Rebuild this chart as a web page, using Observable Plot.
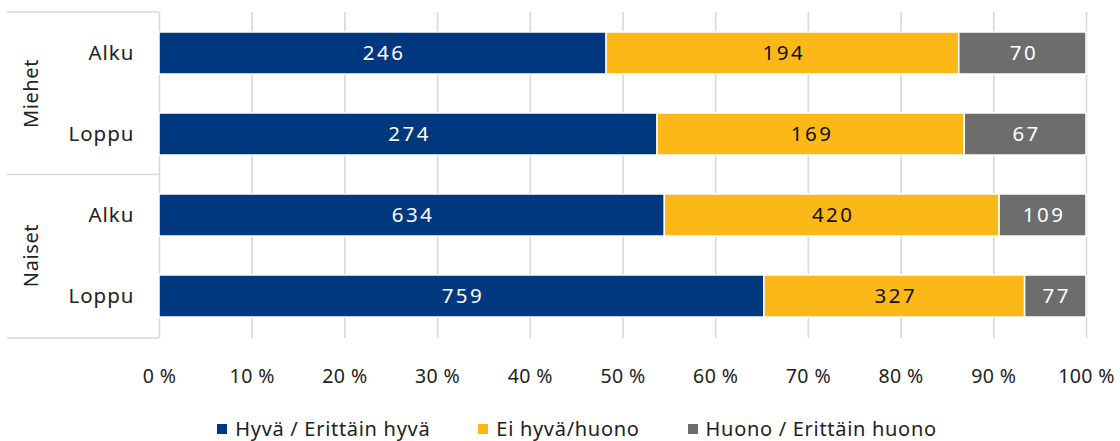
<!DOCTYPE html>
<html>
<head>
<meta charset="utf-8">
<script src="https://cdn.jsdelivr.net/npm/d3@7"></script>
<script src="https://cdn.jsdelivr.net/npm/@observablehq/plot@0.6"></script>
<style>
  html, body { margin: 0; padding: 0; background: #fff; }
  body { width: 1120px; height: 441px; overflow: hidden; font-family: "Noto Sans", sans-serif; }
  #chart svg { display: block; }
  .ch g[aria-label="text"] text { letter-spacing: 2.5px; }
  .ch g[aria-label="y-axis tick label"] text { letter-spacing: 1px; }
  .ch g[aria-label="x-axis tick label"] text { letter-spacing: 0.4px; }
  #legend { display: flex; justify-content: center; gap: 48px; font-size: 20px; letter-spacing: 0.7px; color: #222; margin-top: 7px; padding-left: 34px; }
  #legend .item { display: flex; align-items: center; }
  #legend .sw { width: 10px; height: 10px; margin-right: 8px; }
</style>
</head>
<body>
<div id="chart"></div>
<div id="legend"></div>
<script>
const groups = ["Miehet", "Miehet", "Naiset", "Naiset"];
const periods = ["Alku", "Loppu", "Alku", "Loppu"];
const categories = ["Hyvä / Erittäin hyvä", "Ei hyvä/huono", "Huono / Erittäin huono"];
const good = [246, 274, 634, 759];
const neutral = [194, 169, 420, 327];
const poor = [70, 67, 109, 77];
const colors = ["#00387f", "#fbb817", "#6d6d6d"];
const textColors = ["#ffffff", "#111111", "#ffffff"];
const xTicks = [0, 0.1, 0.2, 0.3, 0.4, 0.5, 0.6, 0.7, 0.8, 0.9, 1];

const series = [good, neutral, poor];
const rows = groups.map((g, i) => g + " " + periods[i]);
const data = [];
rows.forEach((r, i) => {
  categories.forEach((c, j) => {
    data.push({row: r, group: groups[i], period: periods[i], cat: c, ci: j, value: series[j][i]});
  });
});

const W = 1120, H = 408, mTop = 12, mBottom = H - 338, mLeft = 159, mRight = 34;
const lineColor = "#d9d9d9";

function groupFrame(index, scales, values, dims) {
  const y = scales.y;
  const bw = y.bandwidth();
  const svgNS = "http://www.w3.org/2000/svg";
  const g = document.createElementNS(svgNS, "g");
  const top = dims.marginTop, bottom = dims.height - dims.marginBottom;
  const uniq = [...new Set(groups)];
  const lines = [top, bottom];
  uniq.forEach((gr, k) => {
    const rs = rows.filter((r, i) => groups[i] === gr);
    const a = y(rs[0]);
    if (k > 0) {
      const prevRs = rows.filter((r, i) => groups[i] === uniq[k - 1]);
      lines.push((y(prevRs[prevRs.length - 1]) + bw + a) / 2);
    }
  });
  lines.forEach(yy => {
    const l = document.createElementNS(svgNS, "line");
    l.setAttribute("x1", 7); l.setAttribute("x2", dims.marginLeft);
    l.setAttribute("y1", yy); l.setAttribute("y2", yy);
    l.setAttribute("stroke", lineColor); l.setAttribute("stroke-width", 1.6);
    g.appendChild(l);
  });
  uniq.forEach((gr) => {
    const rs = rows.filter((r, i) => groups[i] === gr);
    const mid = (y(rs[0]) + y(rs[rs.length - 1]) + bw) / 2;
    const t = document.createElementNS(svgNS, "text");
    t.setAttribute("transform", `translate(30,${mid}) rotate(-90)`);
    t.setAttribute("text-anchor", "middle");
    t.setAttribute("dominant-baseline", "central");
    t.setAttribute("font-size", "20px");
    t.setAttribute("letter-spacing", "0.6px");
    t.setAttribute("fill", "#222");
    t.textContent = gr;
    g.appendChild(t);
  });
  return g;
}

const plot = Plot.plot({
  className: "ch",
  width: W,
  height: H,
  marginTop: mTop,
  marginBottom: mBottom,
  marginLeft: mLeft,
  marginRight: mRight,
  style: {fontFamily: "Noto Sans", fontSize: "19px", color: "#222", background: "#fff"},
  x: {domain: [0, 1], label: null},
  y: {domain: rows, paddingInner: 0.48, paddingOuter: 0.245, label: null},
  color: {type: "identity"},
  marks: [
    Plot.gridX(xTicks, {stroke: lineColor, strokeOpacity: 1, strokeWidth: 1.6}),
    Plot.barX(data, Plot.stackX({
      x: "value", y: "row", z: "cat", order: categories, offset: "normalize",
      fill: d => colors[d.ci], stroke: "#fff", strokeWidth: 1.5, inset: 0
    })),
    Plot.text(data, Plot.stackX({
      x: "value", y: "row", z: "cat", order: categories, offset: "normalize",
      text: d => String(d.value), fill: d => textColors[d.ci],
      fontSize: 20.5, dx: 1
    })),
    Plot.axisY({tickSize: 0, tickPadding: 25, tickFormat: d => d.split(" ")[1], fontSize: 20.5, label: null}),
    Plot.axisX(xTicks, {tickSize: 0, tickPadding: 31, tickFormat: d => Math.round(d * 100) + " %", fontSize: 19.5, label: null}),
    groupFrame
  ]
});
document.getElementById("chart").appendChild(plot);

const legend = document.getElementById("legend");
categories.forEach((c, j) => {
  const it = document.createElement("div");
  it.className = "item";
  const sw = document.createElement("span");
  sw.className = "sw";
  sw.style.background = colors[j];
  const tx = document.createElement("span");
  tx.textContent = c;
  it.appendChild(sw); it.appendChild(tx);
  legend.appendChild(it);
});
</script>
</body>
</html>
